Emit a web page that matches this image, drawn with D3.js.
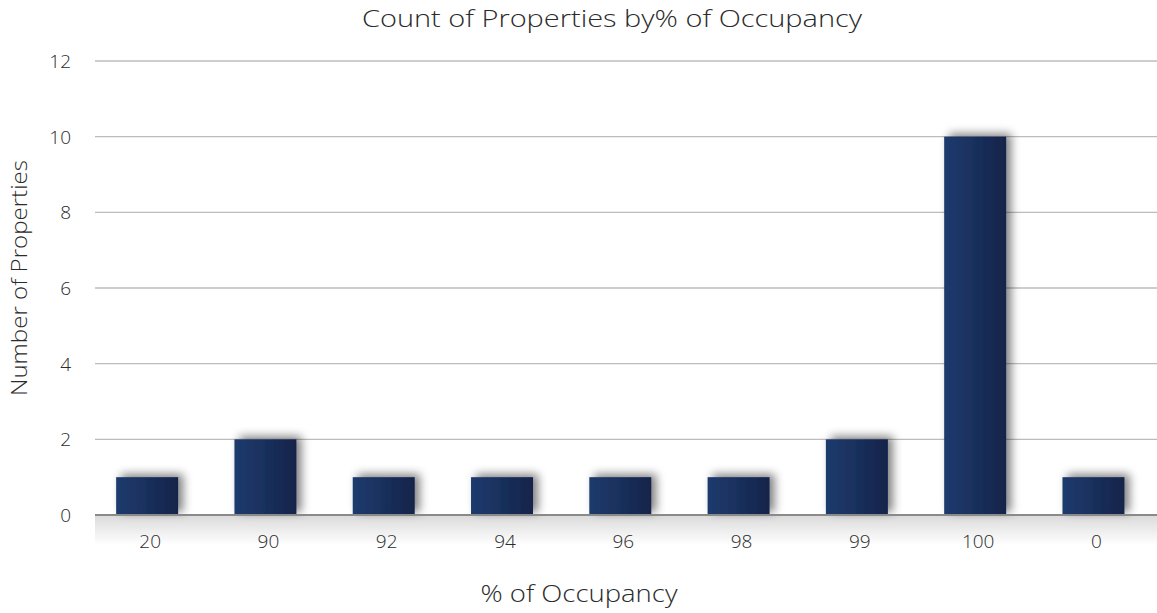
<!DOCTYPE html>
<html><head><meta charset="utf-8">
<script src="https://cdn.jsdelivr.net/npm/d3@7"></script>
<style>body{margin:0;background:#fff}svg{display:block}text{font-family:"Open Sans","Lato",sans-serif;font-weight:300;fill:#2b2b2b}</style>
</head><body><svg id="c" width="1157" height="613"></svg>
<script>
const categories = ["20","90","92","94","96","98","99","100","0"];
const counts = [1,2,1,1,1,1,2,10,1];
const yTicks = [0,2,4,6,8,10,12];
const titleText = "Count of Properties by% of Occupancy";
const xTitle = "% of Occupancy";
const yTitle = "Number of Properties";

const svg = d3.select("#c");
const W = 1157, H = 613;
const x = d3.scaleBand().domain(categories).range([88, 1152.6]).paddingInner(0.476).paddingOuter(0.238);
const y = d3.scaleLinear().domain([0,12]).range([515, 61]);

const defs = svg.append("defs");
const g = defs.append("linearGradient").attr("id","bar").attr("x1","0").attr("x2","1");
g.append("stop").attr("offset","0").attr("stop-color","#1f3b6e");
g.append("stop").attr("offset","1").attr("stop-color","#13244a");
const f = defs.append("filter").attr("id","sh").attr("x","-30%").attr("y","-30%").attr("width","160%").attr("height","160%");
f.append("feGaussianBlur").attr("in","SourceAlpha").attr("stdDeviation","5");
f.append("feOffset").attr("dx","5").attr("dy","-3").attr("result","b");
f.append("feComponentTransfer").append("feFuncA").attr("type","linear").attr("slope","0.5");
const mg = f.append("feMerge"); mg.append("feMergeNode"); mg.append("feMergeNode").attr("in","SourceGraphic");
const fl = defs.append("linearGradient").attr("id","floor").attr("x1","0").attr("x2","0").attr("y1","0").attr("y2","1");
fl.append("stop").attr("offset","0").attr("stop-color","#d4d4d4");
fl.append("stop").attr("offset","1").attr("stop-color","#fff");

// floor shading below axis
svg.append("rect").attr("x",95).attr("y",y(0)).attr("width",W-95).attr("height",30).attr("fill","url(#floor)").attr("opacity",0.85);

// gridlines
svg.append("g").selectAll("line").data(yTicks.filter(d=>d>0)).join("line")
  .attr("x1",95).attr("x2",W).attr("y1",d=>y(d)).attr("y2",d=>y(d))
  .attr("stroke","#bcbcbc").attr("stroke-width",1.3);

// y tick labels
svg.append("g").selectAll("text").data(yTicks).join("text")
  .attr("x",71).attr("y",d=>y(d)).attr("dy","0.36em").attr("text-anchor","end")
  .attr("font-size",19).text(d=>d);

// bars
svg.append("g").selectAll("rect").data(categories).join("rect")
  .attr("x",d=>x(d)).attr("width",x.bandwidth())
  .attr("y",(d,i)=>y(counts[i])).attr("height",(d,i)=>y(0)-y(counts[i]))
  .attr("fill","url(#bar)").attr("filter","url(#sh)");

// axis line
svg.append("line").attr("x1",95).attr("x2",W).attr("y1",y(0)).attr("y2",y(0))
  .attr("stroke","#8a8a8a").attr("stroke-width",2);

// x tick labels
svg.append("g").selectAll("text").data(categories).join("text")
  .attr("x",d=>x(d)+x.bandwidth()/2+3).attr("y",548).attr("text-anchor","middle")
  .attr("font-size",19).text(d=>d);

svg.append("text").attr("x",612).attr("y",27).attr("text-anchor","middle").attr("font-size",24)
  .attr("textLength",500).attr("lengthAdjust","spacingAndGlyphs").text(titleText);
svg.append("text").attr("x",579).attr("y",602).attr("text-anchor","middle").attr("font-size",23)
  .attr("textLength",197).attr("lengthAdjust","spacingAndGlyphs").text(xTitle);
svg.append("text").attr("transform","translate(27,278) rotate(-90)").attr("text-anchor","middle").attr("font-size",22)
  .attr("textLength",236).attr("lengthAdjust","spacingAndGlyphs").text(yTitle);
</script></body></html>
